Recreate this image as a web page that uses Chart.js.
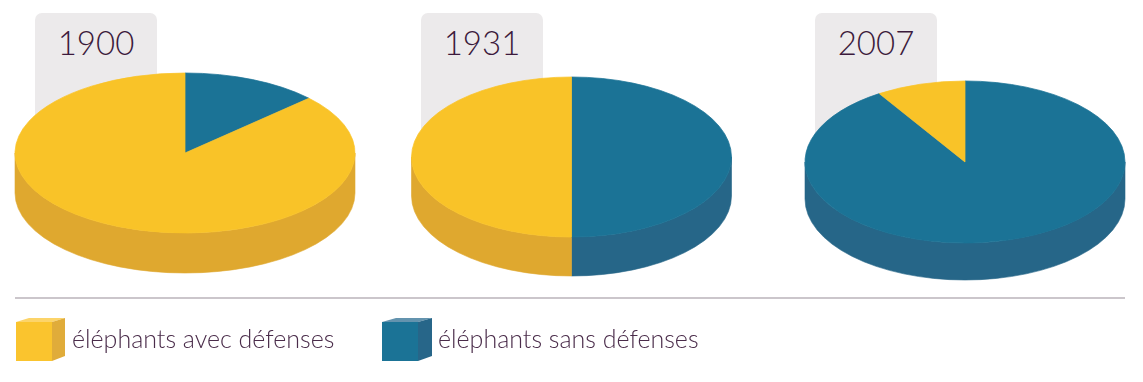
<!DOCTYPE html>
<html>
<head>
<meta charset="utf-8">
<script src="https://cdn.jsdelivr.net/npm/chart.js@4.4.1/dist/chart.umd.min.js"></script>
<style>
  html, body { margin: 0; padding: 0; background: #ffffff; }
  #wrap { position: relative; width: 1143px; height: 382px; overflow: hidden; font-family: Lato, "Open Sans", sans-serif; }
  .tab { position: absolute; top: 13px; width: 122px; height: 130px; background: #ECEAEB; border-radius: 7px 7px 0 0; }
  .year { position: absolute; top: 22px; width: 122px; text-align: center; font-size: 33px; line-height: 40px; font-weight: 300; color: #3c1a3c; }
  canvas.pie { position: absolute; left: 0; top: 0; }
  .rule { position: absolute; left: 15px; top: 297px; width: 1110px; height: 2px; background: #CBC6CB; }
  .legtxt { position: absolute; top: 323px; font-size: 25px; line-height: 30px; font-weight: 300; color: #4a2c4a; white-space: nowrap; }
  svg.cube { position: absolute; top: 0; left: 0; }
</style>
</head>
<body>
<div id="wrap">
  <div id="tabs"></div>
  <canvas class="pie" id="pie0" width="1143" height="382"></canvas>
  <canvas class="pie" id="pie1" width="1143" height="382"></canvas>
  <canvas class="pie" id="pie2" width="1143" height="382"></canvas>
  <div class="rule"></div>
  <svg class="cube" width="1143" height="382">
    <polygon points="16,322 29,318 65,318 52,322" fill="#FCD469"/>
    <polygon points="52,322 65,318 65,356 52,361" fill="#E0AC3A"/>
    <rect x="16" y="322" width="36" height="39" fill="#FAC42E"/>
    <polygon points="382,322 396,318 432,318 418,322" fill="#6393AE"/>
    <polygon points="418,322 432,318 432,356 418,361" fill="#276689"/>
    <rect x="382" y="322" width="36" height="39" fill="#1B7396"/>
  </svg>
  <div class="legtxt" id="leg0" style="left:72px"></div>
  <div class="legtxt" id="leg1" style="left:438px"></div>
</div>
<script>
// ---- data ----
const years = ['1900', '1931', '2007'];
const avecDefenses = [87, 50, 9];   // % éléphants avec défenses
const sansDefenses = [13, 50, 91];  // % éléphants sans défenses
const seriesLabels = ['éléphants avec défenses', 'éléphants sans défenses'];

// ---- styling / layout ----
const colAvec = '#F9C328', sideAvec = '#DFA82F';
const colSans = '#1B7396', sideSans = '#266688';
const pieGeom = [
  { cx: 185,   cy: 153, rx: 170, ry: 80, depth: 40, tab: 35 },
  { cx: 571.5, cy: 157, rx: 160, ry: 80, depth: 39, tab: 421 },
  { cx: 965,   cy: 162, rx: 160, ry: 81, depth: 37, tab: 815 }
];
const W = 1143, HALF = 175;

document.getElementById('leg0').textContent = seriesLabels[0];
document.getElementById('leg1').textContent = seriesLabels[1];

const tabs = document.getElementById('tabs');
years.forEach((y, i) => {
  const t = document.createElement('div');
  t.className = 'tab'; t.style.left = pieGeom[i].tab + 'px';
  tabs.appendChild(t);
  const l = document.createElement('div');
  l.className = 'year'; l.style.left = pieGeom[i].tab + 'px';
  l.textContent = y;
  tabs.appendChild(l);
});

const sideOf = c => (c === colAvec ? sideAvec : sideSans);

const pie3d = {
  id: 'pie3d',
  beforeDatasetsDraw(chart, args, opts) {
    const ctx = chart.ctx;
    const meta = chart.getDatasetMeta(0);
    const k = opts.ry / opts.rx;
    const bg = chart.data.datasets[0].backgroundColor;
    meta.data.forEach((arc, i) => {
      const p = arc.getProps(['x', 'startAngle', 'endAngle', 'outerRadius'], true);
      const s = Math.max(p.startAngle, 0), e = Math.min(p.endAngle, Math.PI);
      if (e <= s) return;
      const r = p.outerRadius;
      ctx.save();
      ctx.beginPath();
      ctx.ellipse(p.x, opts.cy, r, r * k, 0, s, e, false);
      ctx.ellipse(p.x, opts.cy + opts.depth, r, r * k, 0, e, s, true);
      ctx.closePath();
      ctx.fillStyle = sideOf(bg[i]);
      ctx.strokeStyle = sideOf(bg[i]);
      ctx.lineWidth = 0.6;
      ctx.fill();
      ctx.stroke();
      ctx.restore();
    });
  },
  beforeDatasetDraw(chart, args, opts) {
    const ctx = chart.ctx;
    const arc = args.meta.data[0];
    const k = opts.ry / opts.rx;
    ctx.save();
    ctx.translate(0, opts.cy);
    ctx.scale(1, k);
    ctx.translate(0, -arc.y);
  },
  afterDatasetDraw(chart) {
    chart.ctx.restore();
  }
};

years.forEach((y, i) => {
  const g = pieGeom[i];
  const colors = [colSans, colAvec];
  new Chart(document.getElementById('pie' + i), {
    type: 'pie',
    data: {
      labels: [seriesLabels[1], seriesLabels[0]],
      datasets: [{
        data: [sansDefenses[i], avecDefenses[i]],
        backgroundColor: colors,
        borderColor: colors,
        borderWidth: 1,
        radius: g.rx,
        clip: false
      }]
    },
    options: {
      responsive: false,
      animation: false,
      events: [],
      layout: { padding: { left: g.cx - HALF, right: W - g.cx - HALF, top: 0, bottom: 0 } },
      plugins: {
        legend: { display: false },
        tooltip: { enabled: false },
        pie3d: { cy: g.cy, rx: g.rx, ry: g.ry, depth: g.depth }
      }
    },
    plugins: [pie3d]
  });
});
</script>
</body>
</html>
